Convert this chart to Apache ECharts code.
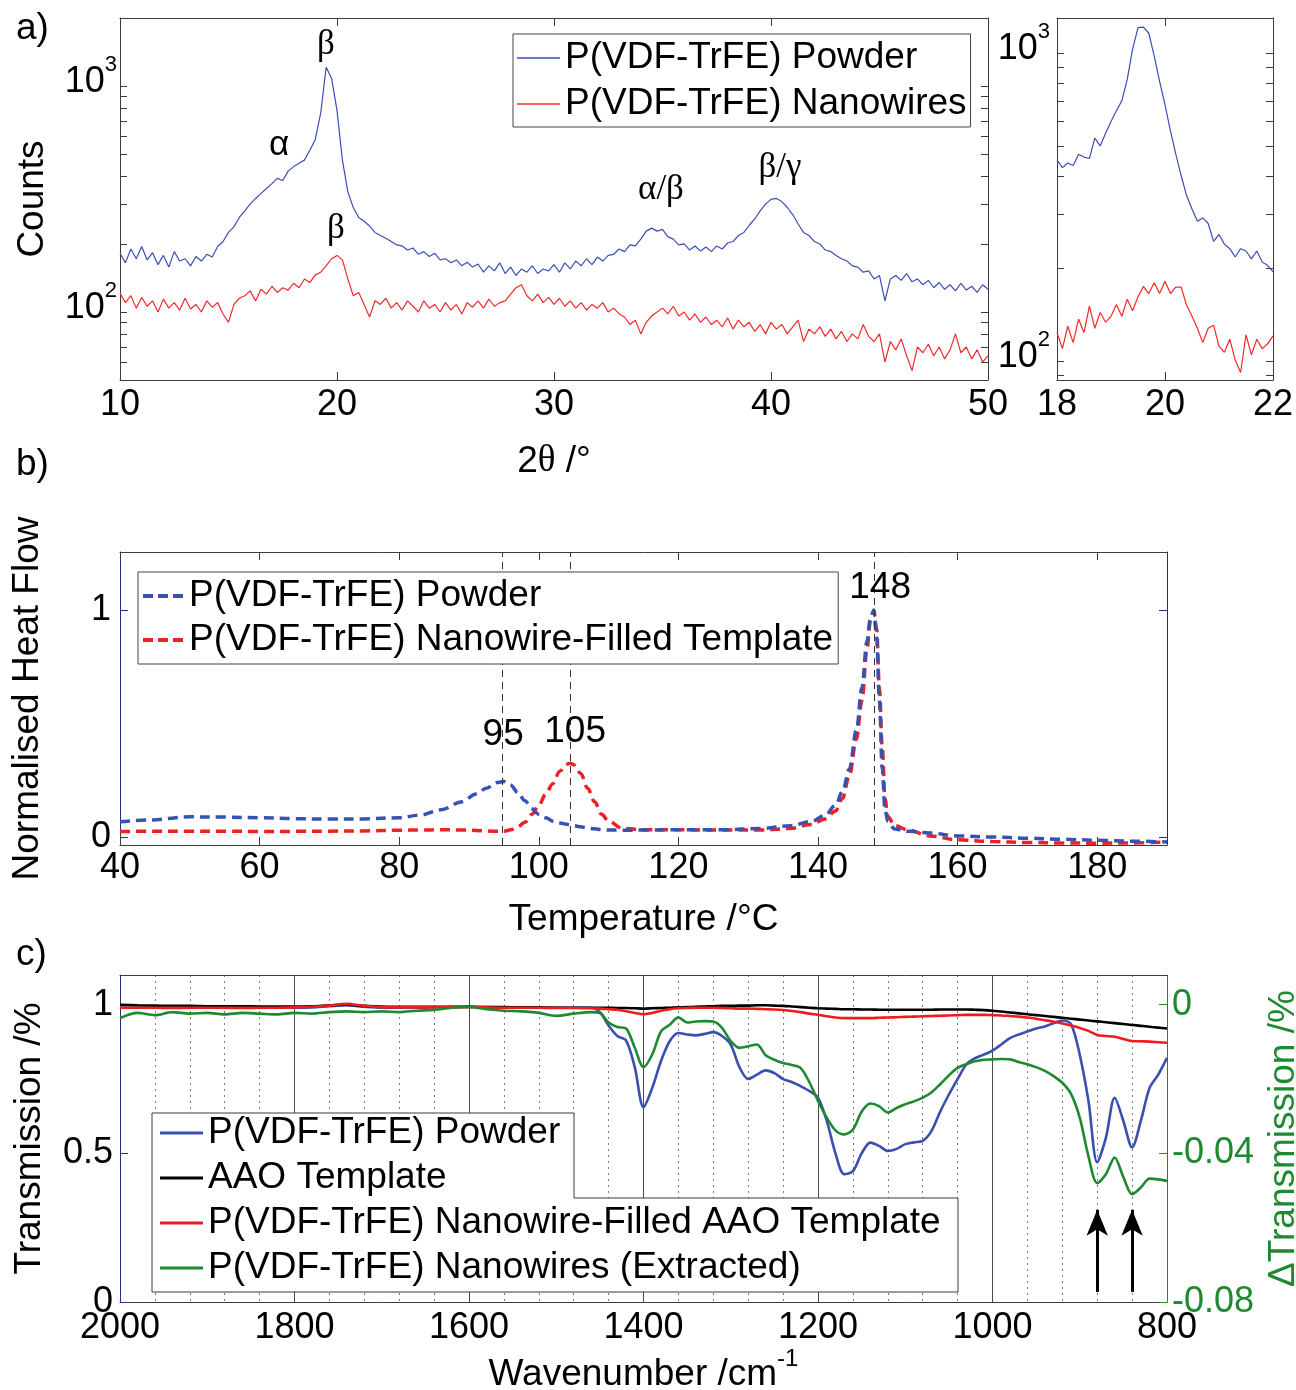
<!DOCTYPE html>
<html><head><meta charset="utf-8">
<script src="https://cdn.jsdelivr.net/npm/echarts@6/dist/echarts.min.js"></script>
<style>html,body{margin:0;padding:0;background:#fff}#chart{width:1296px;height:1390px}</style>
</head><body><div id="chart"></div>
<script>
// ---------- Panel a: XRD (2θ in degrees, counts) ----------
const xrdTheta = [10,10.25,10.5,10.75,11,11.25,11.5,11.75,12,12.25,12.5,12.75,13,13.25,13.5,13.75,14,14.25,14.5,14.75,15,15.25,15.5,15.75,16,16.25,16.5,16.75,17,17.25,17.5,17.75,18,18.25,18.5,18.75,19,19.25,19.5,19.75,20,20.25,20.5,20.75,21,21.25,21.5,21.75,22,22.25,22.5,22.75,23,23.25,23.5,23.75,24,24.25,24.5,24.75,25,25.25,25.5,25.75,26,26.25,26.5,26.75,27,27.25,27.5,27.75,28,28.25,28.5,28.75,29,29.25,29.5,29.75,30,30.25,30.5,30.75,31,31.25,31.5,31.75,32,32.25,32.5,32.75,33,33.25,33.5,33.75,34,34.25,34.5,34.75,35,35.25,35.5,35.75,36,36.25,36.5,36.75,37,37.25,37.5,37.75,38,38.25,38.5,38.75,39,39.25,39.5,39.75,40,40.25,40.5,40.75,41,41.25,41.5,41.75,42,42.25,42.5,42.75,43,43.25,43.5,43.75,44,44.25,44.5,44.75,45,45.25,45.5,45.75,46,46.25,46.5,46.75,47,47.25,47.5,47.75,48,48.25,48.5,48.75,49,49.25,49.5,49.75,50];
const xrdPowder = [
182,165,190,172, 195,170,183,162, 178,158,185,168, 172,160,176,168,
180,175,195,205, 225,238,262,280, 300,318,335,352, 370,390,382,420,
440,455,470,520, 580,760,1210,1080, 780,470,340,290, 262,252,240,225,
218,212,205,198, 196,188,192,180, 185,176,182,170, 172,165,170,160,
166,158,163,150, 160,152,165,148, 158,145,155,150, 160,148,155,152,
162,150,165,155, 168,160,172,162, 175,168,178,180, 190,185,198,196,
210,228,235,228, 232,215,210,198, 200,188,196,186, 194,185,196,190,
202,205,218,225, 242,258,280,300, 315,318,308,290, 270,245,225,218,
205,200,188,185, 178,172,168,160, 158,150,152,140, 145,112,140,145,
138,148,136,140, 132,138,128,135, 126,132,124,134, 125,130,122,132, 126];
const xrdNanowires = [
121,110,118,104, 116,106,112,100, 114,104,110,102, 115,103,108,100,
112,105,110,98, 90,108,115,118, 124,112,126,120, 130,122,128,125,
134,128,140,135, 146,150,160,172, 178,170,140,118, 122,108,95,112,
108,115,104,110, 102,112,106,100, 112,104,108,100, 110,102,108,98,
110,105,112,104, 114,106,110,112, 120,128,132,118, 112,120,110,116,
108,115,106,112, 104,110,102,108, 104,110,100,104, 98,95,88,92,
80,90,96,100, 104,98,106,96, 100,92,98,90, 95,88,92,86,
94,84,92,86, 90,82,88,80, 90,84,88,80, 86,92,74,84,
80,86,78,84, 76,82,74,80, 76,88,78,74, 80,60,74,68,
76,64,55,70, 66,72,64,70, 62,68,80,66, 70,62,68,60, 64];
// inset (zoom 18–22°)
const insetTheta = [18,18.1,18.2,18.3,18.4,18.5,18.6,18.7,18.8,18.9,19,19.1,19.2,19.3,19.4,19.5,19.6,19.7,19.8,19.9,20,20.1,20.2,20.3,20.4,20.5,20.6,20.7,20.8,20.9,21,21.1,21.2,21.3,21.4,21.5,21.6,21.7,21.8,21.9,22];
const insetPowder = [451,425,440,432,470,460,455,530,500,550,600,650,700,820,1030,1210,1215,1160,980,810,680,560,470,400,345,312,285,292,280,245,258,240,232,218,232,228,215,228,210,205,195];
const insetNanowires = [124,110,130,115,137,124,151,128,144,134,140,153,140,159,146,162,175,166,180,166,182,166,174,174,152,140,128,115,128,131,112,107,118,101,92,122,105,118,110,114,121];
const xrdLogTicks = [60,70,80,90,100,200,300,400,500,600,700,800,900,1000];
const insetLogTicks = [90,100,200,300,400,500,600,700,800,900,1000];
const logLabels = [100,1000];

// ---------- Panel b: DSC ----------
const dscTemp = [40,44,50,55,60,65,70,75,80,83,86,89,91,92.5,94,95,96,97,98,99,100,101,102,103,104,104.5,105,106,107,108,109,110,112,115,120,126,132,136,139,141,142.5,143.5,144.5,145.5,146.3,147,147.5,148,148.4,148.8,149.2,149.6,150,151,153,156,160,165,170,175,180,185,190];
const dscPowder = [0.067,0.075,0.089,0.088,0.085,0.081,0.079,0.080,0.085,0.097,0.12,0.155,0.19,0.215,0.24,0.245,0.228,0.195,0.16,0.125,0.10,0.085,0.07,0.062,0.056,0.053,0.05,0.045,0.04,0.036,0.033,0.031,0.03,0.031,0.032,0.032,0.038,0.05,0.068,0.095,0.14,0.20,0.30,0.47,0.66,0.86,0.96,1.0,0.88,0.60,0.30,0.12,0.07,0.035,0.025,0.018,0.005,0.0,-0.005,-0.01,-0.014,-0.018,-0.022];
const dscTemplate = [0.024,0.026,0.025,0.026,0.024,0.025,0.026,0.027,0.03,0.031,0.032,0.031,0.029,0.027,0.025,0.026,0.032,0.045,0.065,0.10,0.14,0.19,0.235,0.29,0.32,0.325,0.318,0.28,0.215,0.155,0.10,0.07,0.038,0.032,0.032,0.031,0.031,0.038,0.055,0.08,0.115,0.17,0.27,0.43,0.60,0.82,0.95,0.995,0.92,0.65,0.40,0.17,0.09,0.05,0.03,0.005,-0.012,-0.02,-0.024,-0.026,-0.027,-0.026,-0.022];
const dscXTicks = [40,60,80,100,120,140,160,180];
const dscMarks = [94.8,104.5,148];

// ---------- Panel c: FTIR ----------
const ftirWave = [2000,1980,1960,1940,1920,1900,1880,1860,1840,1820,1800,1780,1760,1740,1720,1700,1680,1660,1640,1620,1600,1580,1560,1540,1520,1500,1480,1460,
1450,1440,1430,1420,1410,1400,1390,1380,1370,1360,1350,1340,1330,1320,1310,1300,1290,1280,1270,1260,1250,1240,1230,1220,1210,1200,1190,1180,1170,1160,1150,1140,1130,1120,1110,1100,1090,1080,1070,1060,1050,1040,1030,1020,1010,1000,990,980,970,960,950,940,930,920,910,900,890,880,870,860,850,840,830,820,810,800];
const ftirPowder = [0.99,0.99,0.99,0.989,0.99,0.99,0.99,0.989,0.99,0.99,0.99,0.991,0.995,0.998,0.993,0.99,0.99,0.99,0.991,0.992,0.993,0.992,0.991,0.99,0.99,0.99,0.99,0.99,
0.975,0.93,0.895,0.88,0.79,0.655,0.72,0.81,0.877,0.905,
0.90,0.897,0.902,0.908,0.895,0.866,0.79,0.75,0.765,0.779,
0.77,0.75,0.74,0.726,0.71,0.687,0.61,0.50,0.43,0.44,
0.50,0.536,0.525,0.508,0.515,0.531,0.537,0.542,0.575,0.64,
0.698,0.75,0.799,0.82,0.832,0.846,0.866,0.888,0.90,0.91,
0.92,0.927,0.938,0.947,0.935,0.832,0.676,0.47,0.553,0.687,
0.609,0.52,0.609,0.72,0.765,0.821];
const ftirAAO = [1.0,0.998,0.997,0.996,0.996,0.995,0.995,0.995,0.994,0.994,0.994,0.995,0.998,1.0,0.996,0.994,0.993,0.993,0.993,0.993,0.993,0.992,0.992,0.991,0.991,0.99,0.99,0.99,
0.99,0.99,0.989,0.989,0.988,0.987,0.988,0.989,0.99,0.991,
0.992,0.993,0.994,0.995,0.996,0.996,0.997,0.997,0.998,0.998,
0.997,0.996,0.994,0.992,0.99,0.988,0.987,0.986,0.985,0.985,
0.984,0.984,0.983,0.983,0.983,0.983,0.983,0.983,0.983,0.984,
0.984,0.984,0.984,0.983,0.982,0.98,0.977,0.974,0.971,0.968,
0.965,0.962,0.959,0.956,0.953,0.95,0.947,0.944,0.941,0.938,
0.935,0.932,0.929,0.926,0.923,0.92];
const ftirFilled = [0.99,0.99,0.99,0.99,0.99,0.99,0.99,0.99,0.99,0.99,0.991,0.993,0.997,1.003,0.996,0.992,0.991,0.991,0.991,0.991,0.992,0.991,0.99,0.99,0.99,0.989,0.989,0.988,
0.987,0.985,0.983,0.978,0.972,0.968,0.972,0.98,0.985,0.988,
0.989,0.99,0.99,0.99,0.989,0.988,0.987,0.987,0.986,0.985,
0.984,0.982,0.979,0.975,0.97,0.966,0.961,0.957,0.955,0.955,
0.955,0.955,0.956,0.957,0.958,0.959,0.96,0.961,0.962,0.963,
0.964,0.965,0.966,0.966,0.966,0.965,0.964,0.962,0.96,0.957,
0.953,0.948,0.943,0.937,0.93,0.922,0.912,0.898,0.895,0.892,
0.885,0.878,0.877,0.876,0.874,0.872];
const ftirExtracted = [-0.0036,-0.0022,-0.0028,-0.0020,-0.0024,-0.0022,-0.0026,-0.0022,-0.0024,-0.0026,-0.0022,-0.0024,-0.0020,-0.0018,-0.0020,-0.0018,-0.0020,-0.0016,-0.0014,-0.0008,-0.0006,-0.0012,-0.0016,-0.0018,-0.0022,-0.0030,-0.0024,-0.0020,
-0.0022,-0.0048,-0.0060,-0.0064,-0.0116,-0.0168,-0.0134,-0.0072,-0.0054,-0.0034,
-0.0048,-0.0045,-0.0044,-0.0045,-0.0062,-0.0098,-0.0116,-0.0112,-0.0107,-0.0136,
-0.0148,-0.0157,-0.0162,-0.0170,-0.0208,-0.0259,-0.0304,-0.0338,-0.0349,-0.0336,
-0.0288,-0.0266,-0.0273,-0.0290,-0.0278,-0.0268,-0.0260,-0.0250,-0.0236,-0.0214,
-0.0190,-0.0170,-0.0160,-0.0152,-0.0148,-0.0147,-0.0146,-0.0147,-0.0154,-0.0160,
-0.0168,-0.0178,-0.0192,-0.0210,-0.0240,-0.0304,-0.0408,-0.0480,-0.0456,-0.0411,
-0.0464,-0.0510,-0.0492,-0.0468,-0.0470,-0.0474];
const ftirArrows = [880,840];
const transTicks = [0,0.5,1];
const deltaTicks = [-0.08,-0.04,0];

// ---------- styling ----------
const FONT = '"Liberation Sans", Arial, Helvetica, sans-serif';
const SERIF = '"Liberation Serif", "Times New Roman", serif';
const AXC = '#3c3c3c';
const NAVY = '#24307a';
const BLUE_A = '#3d4db8', RED_A = '#f02a2a';
const BLUE_B = '#3852b2', RED_B = '#ee2024';
const BLUE_C = '#3a4fb0', RED_C = '#ee1c1c', GREEN_C = '#1e8a30';

const LEG = {
  a_powder: 'P(VDF-TrFE) Powder', a_nano: 'P(VDF-TrFE) Nanowires',
  b_powder: 'P(VDF-TrFE) Powder', b_template: 'P(VDF-TrFE) Nanowire-Filled Template',
  c_powder: 'P(VDF-TrFE) Powder', c_aao: 'AAO Template',
  c_filled: 'P(VDF-TrFE) Nanowire-Filled AAO Template', c_extracted: 'P(VDF-TrFE) Nanowires (Extracted)'
};

function pairs(xs, ys) { return xs.map((x, i) => [x, ys[i]]); }

const supRich = {
  b: {fontSize: 36, fontFamily: FONT, color: '#000', lineHeight: 40, padding: [0,0,6,0], verticalAlign: 'bottom'},
  s: {fontSize: 22, fontFamily: FONT, color: '#000', lineHeight: 22, padding: [0,0,30,0], verticalAlign: 'bottom'}
};
const logFmt = v => '{b|10}{s|' + Math.round(Math.log10(v)) + '}';

function axis(o) {
  const a = {
    type: o.type || 'value', gridIndex: o.grid, position: o.pos,
    min: o.min, max: o.max, inverse: !!o.inverse,
    axisLine: {show: true, onZero: false, lineStyle: {color: o.lineColor || AXC, width: 1}},
    axisTick: {show: o.ticks !== false, inside: true, length: o.tickLen || 8,
      lineStyle: {color: o.tickColor || o.lineColor || AXC, width: 1}},
    axisLabel: {show: !!o.labels, margin: o.margin == null ? 8 : o.margin,
      color: o.labelColor || '#000', fontFamily: FONT, fontSize: 36,
      formatter: v => String(v)},
    splitLine: {show: false}
  };
  if (o.type === 'log') a.logBase = 10;
  if (o.interval != null) a.interval = o.interval;
  if (o.tickValues) a.axisTick.customValues = o.tickValues;
  if (o.labelValues) a.axisLabel.customValues = o.labelValues;
  if (o.formatter) a.axisLabel.formatter = o.formatter;
  if (o.rich) a.axisLabel.rich = o.rich;
  if (o.name) {
    a.name = o.name; a.nameLocation = 'middle'; a.nameGap = o.nameGap;
    if (o.nameRotate != null) a.nameRotate = o.nameRotate;
    a.nameTextStyle = Object.assign({fontSize: 37, fontFamily: FONT, color: o.nameColor || '#000'}, o.nameStyle || {});
  }
  if (o.extra) Object.assign(a, o.extra);
  return a;
}

const xAxes = [
  axis({grid: 0, pos: 'bottom', min: 10, max: 50, interval: 10, labels: true, margin: 7,
        name: '2{t|θ} /°', nameGap: 63, nameStyle: {rich: {t: {fontSize: 37, fontFamily: SERIF, color: '#000'}}}}),
  axis({grid: 0, pos: 'top', min: 10, max: 50, interval: 10}),
  axis({grid: 1, pos: 'bottom', min: 18, max: 22, interval: 2, labels: true, margin: 7}),
  axis({grid: 1, pos: 'top', min: 18, max: 22, interval: 2}),
  axis({grid: 2, pos: 'bottom', min: 40, max: 190, labels: true, margin: 5, tickValues: dscXTicks, labelValues: dscXTicks,
        name: 'Temperature /°C', nameGap: 56}),
  axis({grid: 2, pos: 'top', min: 40, max: 190, tickValues: dscXTicks}),
  axis({grid: 3, pos: 'bottom', min: 800, max: 2000, interval: 200, inverse: true, labels: true, margin: 8, ticks: false,
        name: '{b|Wavenumber /cm}{s|-1}', nameGap: 43,
        nameStyle: {rich: {
          b: {fontSize: 37, fontFamily: FONT, color: '#000', lineHeight: 40, padding: [0,0,6,0], verticalAlign: 'bottom'},
          s: {fontSize: 24, fontFamily: FONT, color: '#000', lineHeight: 24, padding: [0,0,28,0], verticalAlign: 'bottom'}}},
        extra: {
          splitLine: {show: true, lineStyle: {color: '#4a4a4a', width: 1}},
          minorTick: {show: false, splitNumber: 5},
          minorSplitLine: {show: true, lineStyle: {color: '#7a7a7a', width: 1, type: [2, 4]}}
        }}),
  axis({grid: 3, pos: 'top', min: 800, max: 2000, interval: 200, inverse: true, ticks: false})
];

const yAxes = [
  axis({grid: 0, pos: 'left', type: 'log', min: 50, max: 2000, labels: true, margin: 3,
        tickValues: xrdLogTicks, labelValues: logLabels, formatter: logFmt, rich: supRich, tickLen: 7,
        name: 'Counts', nameGap: 69, nameRotate: 90}),
  axis({grid: 0, pos: 'right', type: 'log', min: 50, max: 2000, tickValues: xrdLogTicks, tickLen: 7}),
  axis({grid: 1, pos: 'left', type: 'log', min: 87, max: 1300, labels: true, margin: 7,
        tickValues: insetLogTicks, labelValues: logLabels, formatter: logFmt, rich: supRich, tickLen: 7}),
  axis({grid: 1, pos: 'right', type: 'log', min: 87, max: 1300, tickValues: insetLogTicks, tickLen: 7}),
  axis({grid: 2, pos: 'left', min: -0.035, max: 1.255, labels: true, margin: 9, lineColor: NAVY,
        tickValues: [0, 1], labelValues: [0, 1], formatter: v => String(Math.round(v)),
        name: 'Normalised Heat Flow', nameGap: 74, nameRotate: 90}),
  axis({grid: 2, pos: 'right', min: -0.035, max: 1.255, lineColor: NAVY, tickValues: [0, 1]}),
  axis({grid: 3, pos: 'left', min: 0, max: 1.1, labels: true, margin: 7, lineColor: NAVY,
        tickValues: transTicks, labelValues: transTicks, formatter: v => (v === 0.5 ? '0.5' : String(v)),
        name: 'Transmission /%', nameGap: 72, nameRotate: 90}),
  axis({grid: 3, pos: 'right', min: -0.08, max: 0.008, labels: true, margin: 5, lineColor: GREEN_C, labelColor: GREEN_C,
        tickValues: deltaTicks, labelValues: deltaTicks, formatter: v => (v === 0 ? '0' : v.toFixed(2)),
        name: 'ΔTransmission /%', nameGap: 94, nameRotate: 90, nameColor: GREEN_C})
];

const annoA = {
  symbol: 'circle', symbolSize: 1, silent: true, itemStyle: {color: 'rgba(0,0,0,0)'},
  label: {show: true, position: 'inside', color: '#000', fontSize: 35, fontFamily: SERIF}
};

const series = [
  {name: 'a_powder', type: 'line', xAxisIndex: 0, yAxisIndex: 0, symbol: 'none', color: BLUE_A,
   lineStyle: {width: 1.2, color: BLUE_A}, data: pairs(xrdTheta, xrdPowder),
   markPoint: Object.assign({}, annoA, {data: [
     {coord: [17.33, 548], label: {formatter: 'α', fontFamily: FONT}},
     {coord: [19.49, 1517], label: {formatter: 'β'}},
     {coord: [34.93, 347], label: {formatter: 'α/β'}},
     {coord: [40.41, 434], label: {formatter: 'β/γ'}}
   ]})},
  {name: 'a_nano', type: 'line', xAxisIndex: 0, yAxisIndex: 0, symbol: 'none', color: RED_A,
   lineStyle: {width: 1.2, color: RED_A}, data: pairs(xrdTheta, xrdNanowires),
   markPoint: Object.assign({}, annoA, {data: [{coord: [19.95, 233], label: {formatter: 'β'}}]})},
  {name: 'ai_powder', type: 'line', xAxisIndex: 2, yAxisIndex: 2, symbol: 'none', color: BLUE_A,
   lineStyle: {width: 1.2, color: BLUE_A}, data: pairs(insetTheta, insetPowder)},
  {name: 'ai_nano', type: 'line', xAxisIndex: 2, yAxisIndex: 2, symbol: 'none', color: RED_A,
   lineStyle: {width: 1.2, color: RED_A}, data: pairs(insetTheta, insetNanowires)},

  {name: 'b_powder', type: 'line', xAxisIndex: 4, yAxisIndex: 4, symbol: 'none', smooth: 0.35, smoothMonotone: 'x', color: BLUE_B,
   lineStyle: {width: 3.5, color: BLUE_B, type: [10, 6]}, data: pairs(dscTemp, dscPowder), z: 3,
   markLine: {silent: true, symbol: ['none', 'none'], label: {show: false},
     lineStyle: {color: '#333', width: 1, type: [7, 5]}, data: dscMarks.map(v => ({xAxis: v}))},
   markPoint: {symbol: 'circle', symbolSize: 1, silent: true, itemStyle: {color: 'rgba(0,0,0,0)'},
     label: {show: true, position: 'inside', color: '#000', fontSize: 37, fontFamily: FONT},
     data: [{coord: [94.9, 0.449], label: {formatter: '95'}},
            {coord: [105.2, 0.463], label: {formatter: '105'}},
            {coord: [148.9, 1.097], label: {formatter: '148'}}]}},
  {name: 'b_template', type: 'line', xAxisIndex: 4, yAxisIndex: 4, symbol: 'none', smooth: 0.35, smoothMonotone: 'x', color: RED_B,
   lineStyle: {width: 3.5, color: RED_B, type: [10, 6]}, data: pairs(dscTemp, dscTemplate), z: 2},

  {name: 'c_powder', type: 'line', xAxisIndex: 6, yAxisIndex: 6, symbol: 'none', smooth: 0.3, color: BLUE_C,
   lineStyle: {width: 2.6, color: BLUE_C}, data: pairs(ftirWave, ftirPowder)},
  {name: 'c_aao', type: 'line', xAxisIndex: 6, yAxisIndex: 6, symbol: 'none', smooth: 0.3, color: '#000',
   lineStyle: {width: 2.6, color: '#000'}, data: pairs(ftirWave, ftirAAO),
   markLine: {silent: true, symbol: ['none', 'arrow'], symbolSize: [16, 26], label: {show: false},
     lineStyle: {color: '#000', width: 3, type: 'solid'},
     data: ftirArrows.map(w => [{coord: [w, 0.034]}, {coord: [w, 0.31]}])}},
  {name: 'c_filled', type: 'line', xAxisIndex: 6, yAxisIndex: 6, symbol: 'none', smooth: 0.3, color: RED_C,
   lineStyle: {width: 2.6, color: RED_C}, data: pairs(ftirWave, ftirFilled)},
  {name: 'c_extracted', type: 'line', xAxisIndex: 6, yAxisIndex: 7, symbol: 'none', smooth: 0.3, color: GREEN_C,
   lineStyle: {width: 2.6, color: GREEN_C}, data: pairs(ftirWave, ftirExtracted)}
];

const legText = {fontSize: 37, fontFamily: FONT, color: '#000', lineHeight: 42};
const legBase = {orient: 'vertical', selectedMode: false, formatter: n => LEG[n], textStyle: legText, z: 6};
const dashIcon = 'path://M0,0h10v4h-10z M15,0h10v4h-10z M30,0h10v4h-10z';

const option = {
  animation: false,
  backgroundColor: '#fff',
  grid: [
    {left: 120, top: 18, width: 868, height: 362, containLabel: false, outerBoundsMode: 'none'},
    {left: 1057, top: 18, width: 216, height: 362, containLabel: false, outerBoundsMode: 'none'},
    {left: 120, top: 552, width: 1047, height: 293, containLabel: false, outerBoundsMode: 'none'},
    {left: 120, top: 975, width: 1047, height: 327, containLabel: false, outerBoundsMode: 'none'}
  ],
  xAxis: xAxes,
  yAxis: yAxes,
  legend: [
    Object.assign({}, legBase, {left: 513, top: 34, data: ['a_powder', 'a_nano'], icon: 'rect', itemWidth: 43, itemHeight: 1.5,
      itemGap: 4, padding: [3, 4, 2, 4], borderColor: '#444', borderWidth: 1, backgroundColor: '#fff'}),
    Object.assign({}, legBase, {left: 138, top: 572, data: ['b_powder', 'b_template'], icon: dashIcon, itemWidth: 42, itemHeight: 4,
      itemGap: 2, padding: [3, 5, 3, 5], borderColor: '#444', borderWidth: 1, backgroundColor: '#fff'}),
    Object.assign({}, legBase, {left: 152, top: 1112, data: ['c_powder', 'c_aao'], icon: 'rect', itemWidth: 43, itemHeight: 3,
      itemGap: 3, padding: [0, 4, 0, 8], borderWidth: 0, backgroundColor: 'transparent'}),
    Object.assign({}, legBase, {left: 152, top: 1202, data: ['c_filled', 'c_extracted'], icon: 'rect', itemWidth: 43, itemHeight: 3,
      itemGap: 3, padding: [0, 4, 0, 8], borderWidth: 0, backgroundColor: 'transparent'})
  ],
  graphic: [
    {type: 'polygon', z: 5, silent: true,
     shape: {points: [[152, 1113], [574, 1113], [574, 1198], [958, 1198], [958, 1292], [152, 1292]]},
     style: {fill: '#fff', stroke: '#3a3a3a', lineWidth: 1}},
    {type: 'text', left: 16, top: 10, z: 10, style: {text: 'a)', font: '37px "Liberation Sans", Arial, sans-serif', fill: '#000'}},
    {type: 'text', left: 16, top: 446, z: 10, style: {text: 'b)', font: '37px "Liberation Sans", Arial, sans-serif', fill: '#000'}},
    {type: 'text', left: 16, top: 936, z: 10, style: {text: 'c)', font: '37px "Liberation Sans", Arial, sans-serif', fill: '#000'}}
  ],
  series: series
};

const chart = echarts.init(document.getElementById('chart'), null, {renderer: 'canvas', width: 1296, height: 1390});
chart.setOption(option);
</script>
</body></html>
